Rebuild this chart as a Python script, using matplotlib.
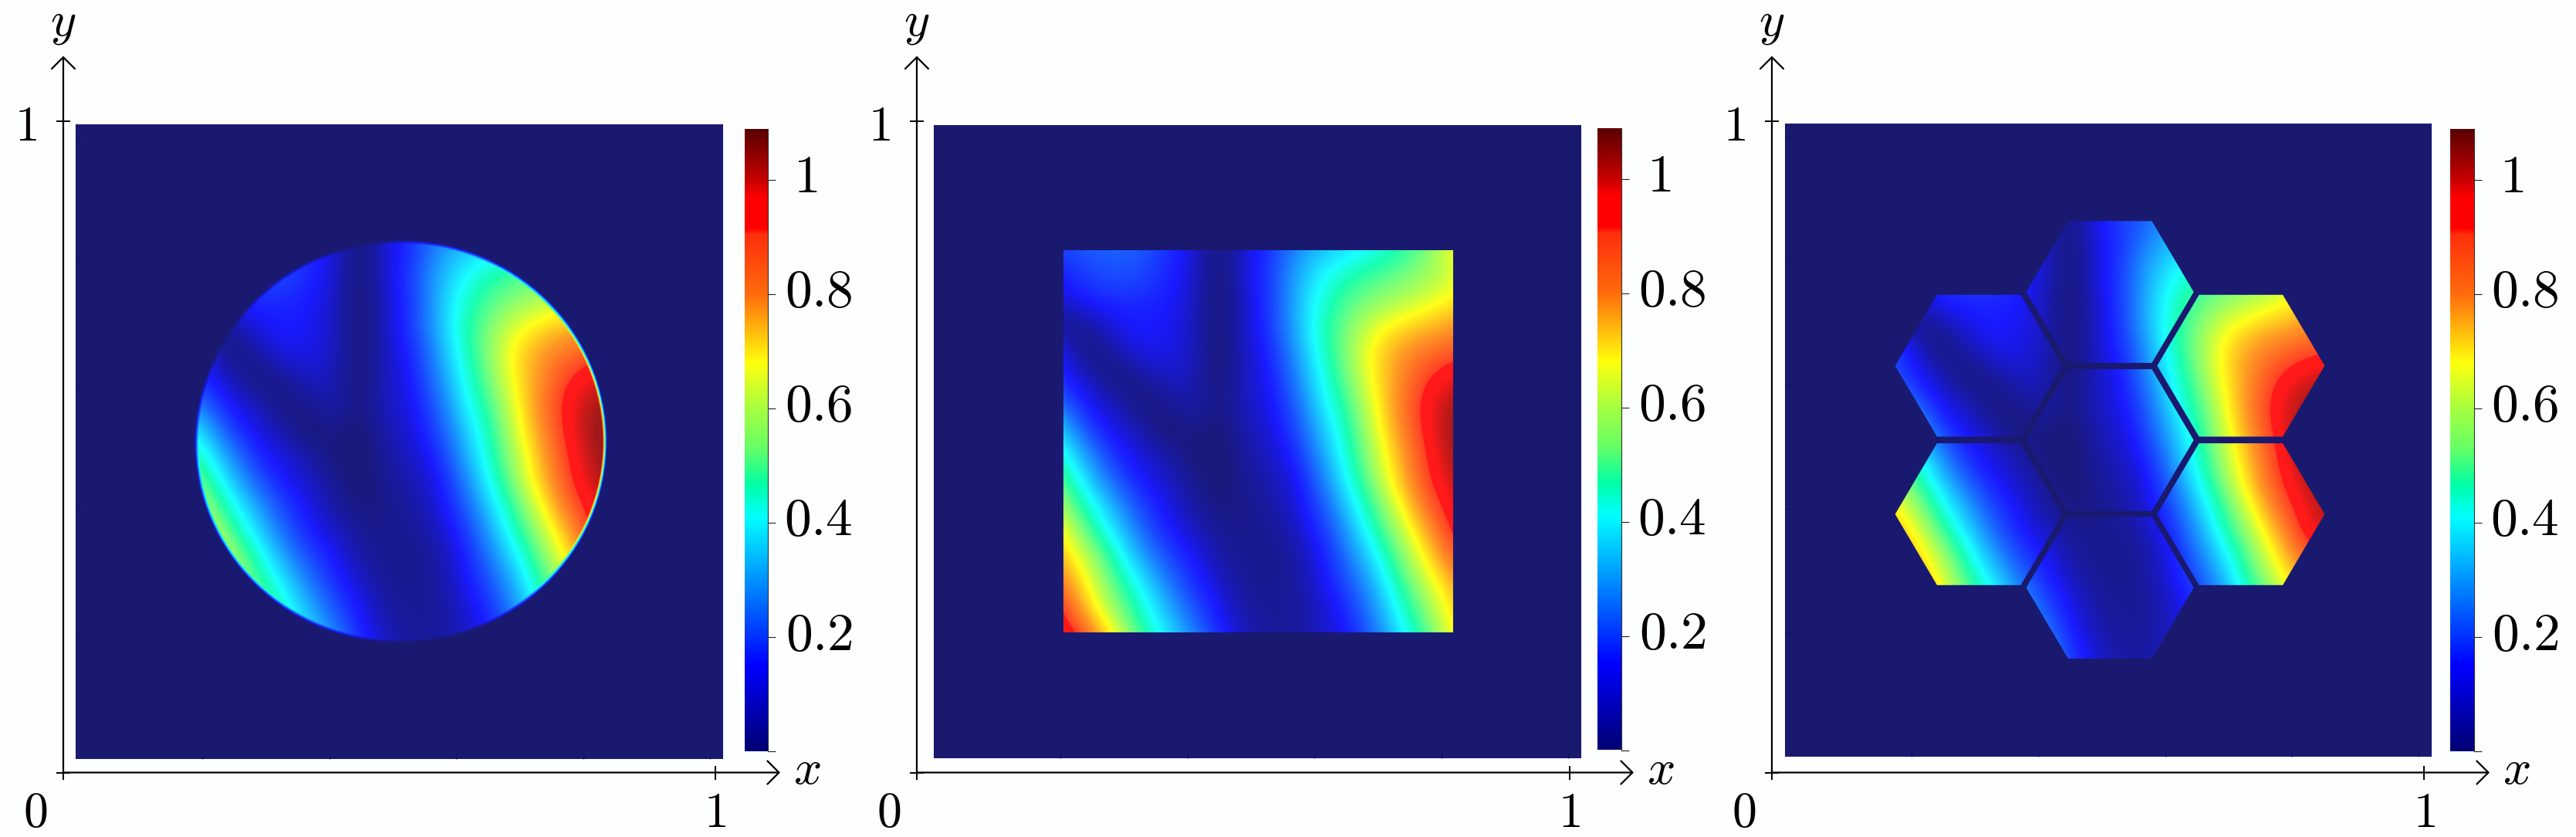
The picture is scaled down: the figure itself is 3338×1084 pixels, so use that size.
import numpy as np
import matplotlib
matplotlib.use('Agg')
import matplotlib.pyplot as plt
from matplotlib.colors import LinearSegmentedColormap
from matplotlib.patches import Circle, Rectangle, PathPatch
from matplotlib.path import Path

plt.rcParams['mathtext.fontset'] = 'cm'

W, H = 3338, 1084
bg = '#fdfefe'
frame_col = '#191970'

vmax = 1.089
cbar_ticks = [0.2, 0.4, 0.6, 0.8, 1.0]
cbar_labels = ['0.2', '0.4', '0.6', '0.8', '1']
frame_ticks = [0.196, 0.392, 0.588, 0.784, 0.98]

x_grid = [.16, .20, .24, .28, .32, .36, .40, .44, .48, .52, .56, .60, .64, .68, .72, .76, .80, .84]
y_grid = [.84, .80, .76, .72, .68, .64, .60, .56, .52, .48, .44, .40, .36, .32, .28, .24, .20, .16]
field = [
    [.17, .19, .21, .22, .21, .16, .10, .03, .10, .16, .20, .29, .35, .39, .45, .53, .63, .72],
    [.14, .16, .19, .20, .19, .14, .09, .02, .09, .14, .26, .32, .36, .41, .46, .54, .67, .75],
    [.10, .12, .16, .18, .17, .13, .09, .02, .09, .16, .29, .39, .46, .50, .54, .58, .63, .72],
    [.10, .08, .12, .13, .13, .12, .08, .02, .08, .15, .30, .43, .51, .56, .60, .65, .70, .76],
    [.12, .03, .05, .10, .12, .11, .08, .02, .08, .15, .30, .45, .55, .66, .72, .76, .80, .83],
    [.17, .11, .02, .06, .10, .105, .08, .02, .08, .125, .27, .43, .57, .71, .80, .86, .90, .93],
    [.21, .115, .08, .02, .05, .08, .075, .02, .08, .11, .24, .40, .54, .70, .82, .93, .99, 1.02],
    [.28, .20, .10, .08, .02, .05, .07, .03, .08, .10, .20, .37, .50, .67, .84, .97, 1.04, 1.07],
    [.42, .32, .15, .095, .07, .01, .05, .02, .07, .09, .17, .32, .46, .64, .82, .96, 1.06, 1.10],
    [.53, .41, .25, .13, .09, .07, .02, .01, .06, .08, .13, .28, .44, .60, .78, .94, 1.04, 1.10],
    [.62, .50, .33, .19, .11, .08, .05, .015, .05, .07, .10, .23, .40, .57, .75, .92, 1.02, 1.08],
    [.70, .58, .42, .28, .16, .10, .06, .03, .04, .06, .09, .18, .34, .50, .68, .87, .98, 1.05],
    [.80, .67, .50, .35, .21, .12, .08, .05, .04, .05, .075, .14, .28, .45, .60, .78, .96, 1.02],
    [.88, .74, .60, .44, .28, .17, .11, .06, .045, .04, .06, .11, .23, .37, .54, .70, .88, .96],
    [.95, .83, .66, .50, .37, .23, .135, .08, .05, .04, .06, .10, .18, .31, .48, .63, .77, .90],
    [1.02, .93, .72, .56, .43, .30, .18, .105, .06, .05, .05, .085, .14, .26, .42, .56, .72, .83],
    [1.08, 1.00, .85, .65, .48, .35, .24, .12, .07, .05, .055, .08, .115, .22, .37, .51, .68, .78],
    [1.10, 1.08, .95, .75, .56, .42, .30, .16, .09, .06, .06, .08, .10, .17, .31, .46, .62, .72],
]

# colour stops, (value, rgb)
cbar_stops = [(0, (0, 0, .45)), (.15, (0, 0, 1)), (.41, (0, 1, 1)), (.467, (0, 1, .65)), (.53, (.4, 1, .4)),
              (.6, (.65, 1, .25)), (.68, (1, 1, .05)), (.8, (1, .42, .05)), (.905, (1, .18, .05)), (.915, (1, 0, 0)),
              (.97, (1, 0, 0)), (1.0, (.78, 0, 0)), (vmax, (.35, 0, 0))]
# the images look washed with white, with a darker low end
img_stops = [(0, (0, 0, .38)), (.03, (0, 0, .44)), (.06, (0, 0, .6)), (.115, (0, 0, 1)), (.39, (0, 1, 1)),
             (.46, (0, 1, .65)), (.55, (.45, 1, .4)), (.6, (.65, 1, .25)), (.68, (1, 1, 0)), (.8, (1, .55, .05)),
             (.925, (1, .18, .05)), (.932, (1, 0, 0)), (.97, (1, 0, 0)), (1.05, (.6, 0, 0)), (vmax, (.5, 0, 0))]


def make_cmap(stops, wash=0.0):
    return LinearSegmentedColormap.from_list(
        'c', [(v / vmax, tuple(c * (1 - wash) + wash for c in rgb)) for v, rgb in stops], N=1024)


cbar_cmap = make_cmap(cbar_stops)
img_cmap = make_cmap(img_stops, 0.1)

# circle edge fades to zero over a few pixels
edge_scale = [.12, .25, .4, .55, .7, .85, 1.0]
edge_step = 0.0010
circle_r = 0.3185

# hexagon layout, in fractions of the frame
hex_centres = [(0.5025, 0.5), (0.5025, 0.734), (0.5025, 0.267),
               (0.2998, 0.6175), (0.2998, 0.383), (0.705, 0.6175), (0.705, 0.383)]
hex_w = 0.1295
hex_h = 0.112

# pixel layouts: axis x, x=1 tick, arrow tip, frame l/r/t/b, colorbar l/r/t/b
panels = [
    dict(ax0=82, ax1=926.5, tip=1011, fr=(98, 937, 161, 983), cb=(965, 995, 167, 973)),
    dict(ax0=1188, ax1=2033.6, tip=2117, fr=(1210, 2049, 162, 982), cb=(2070, 2101, 166, 971.5)),
    dict(ax0=2296, ax1=3141, tip=3226, fr=(2313, 3151, 160, 980), cb=(3175, 3206, 167, 973)),
]
y_axis = 1000.5
y_one = 157
y_tip = 72.5


def px_axes(fig, l, r, t, b):
    return fig.add_axes([l / W, 1 - b / H, (r - l) / W, (b - t) / H])


def hex_path():
    parts = []
    for cx, cy in hex_centres:
        verts = [(cx - hex_w, cy), (cx - hex_w / 2, cy + hex_h), (cx + hex_w / 2, cy + hex_h),
                 (cx + hex_w, cy), (cx + hex_w / 2, cy - hex_h), (cx - hex_w / 2, cy - hex_h),
                 (cx - hex_w, cy)]
        parts.append(Path(verts, closed=True))
    return Path.make_compound_path(*parts)


def show_field(fa, scale, clip):
    dx = x_grid[1] - x_grid[0]
    im = fa.imshow(np.array(field[::-1]) * scale, cmap=img_cmap, vmin=0, vmax=vmax,
                   extent=(x_grid[0] - dx / 2, x_grid[-1] + dx / 2, y_grid[-1] - dx / 2, y_grid[0] + dx / 2),
                   origin='lower', aspect='auto', interpolation='bicubic', interpolation_stage='data')
    im.set_clip_path(clip)


fig = plt.figure(figsize=(W / 100, H / 100), dpi=100, facecolor=bg)

for i, p in enumerate(panels):
    # frame with the field
    l, r, tp, b = p['fr']
    fa = px_axes(fig, l, r, tp, b)
    fa.set_facecolor(frame_col)
    for s in fa.spines.values():
        s.set_visible(False)
    if i == 0:
        for k, sc in enumerate(edge_scale):
            show_field(fa, sc, Circle((0.502, 0.5), circle_r - k * edge_step, transform=fa.transData))
    elif i == 1:
        show_field(fa, 1.0, Rectangle((0.2, 0.199), 0.601, 0.603, transform=fa.transData))
    else:
        show_field(fa, 1.0, PathPatch(hex_path(), transform=fa.transData))
    fa.set_xlim(0, 1)
    fa.set_ylim(0, 1)
    fa.set_xticks(frame_ticks)
    fa.set_yticks(frame_ticks)
    fa.tick_params(direction='in', length=5, width=0.8, color='#10106a', labelleft=False, labelbottom=False)

    # colorbar
    l, r, tp, b = p['cb']
    ca = px_axes(fig, l, r, tp, b)
    grad = np.linspace(0, vmax, 1024).reshape(-1, 1)
    ca.imshow(grad, cmap=cbar_cmap, vmin=0, vmax=vmax, origin='lower', aspect='auto', extent=(0, 1, 0, vmax))
    for s in ['top', 'left', 'bottom']:
        ca.spines[s].set_visible(False)
    ca.spines['right'].set_linewidth(0.8)
    ca.spines['right'].set_color('#333333')
    ca.set_xticks([])
    ca.yaxis.tick_right()
    ca.set_yticks([0] + cbar_ticks)
    ca.set_yticklabels([])
    ca.tick_params(axis='y', length=7.5, width=0.8, color='#222222')
    for v, lab in zip(cbar_ticks, cbar_labels):
        xp = r + 110 if lab != '1' else r + 64
        ca.text((xp - l) / (r - l), v + 0.004, '$%s$' % lab, fontsize=50, ha='right', va='center',
                transform=ca.get_yaxis_transform())

    # x/y axis lines with arrows
    a0, a1, tip = p['ax0'], p['ax1'], p['tip']
    ax = px_axes(fig, a0, tip, y_tip, y_axis)
    ax.patch.set_alpha(0)
    xm = (tip - a0) / (a1 - a0)
    ym = (y_axis - y_tip) / (y_axis - y_one)
    ax.set_xlim(0, xm)
    ax.set_ylim(0, ym)
    for s in ax.spines.values():
        s.set_visible(False)
    arrow = dict(arrowstyle='->,head_length=0.45,head_width=0.45', lw=1.6, color='black',
                 shrinkA=0, shrinkB=0, mutation_scale=24)
    ax.annotate('', xy=(xm, 0), xytext=(0, 0), arrowprops=arrow, annotation_clip=False)
    ax.annotate('', xy=(0, ym), xytext=(0, 0), arrowprops=arrow, annotation_clip=False)
    ax.set_xticks([0, 1])
    ax.set_xticklabels(['', '$1$'], fontsize=46)
    ax.set_yticks([0, 1])
    ax.set_yticklabels(['', '$1$'], fontsize=46)
    ax.tick_params(axis='y', direction='inout', length=12.5, width=1.4, pad=18)
    ax.tick_params(axis='x', direction='inout', length=12.5, width=1.4, pad=9)
    ax.text(-36 / (a1 - a0), -53 / (y_axis - y_one), '$0$', fontsize=46, ha='center', va='center', clip_on=False)
    ax.text(xm + 35 / (a1 - a0), 4 / (y_axis - y_one), '$x$', fontsize=46, ha='center', va='center', clip_on=False)
    ax.text(0, ym + 44 / (y_axis - y_one), '$y$', fontsize=46, ha='center', va='center', clip_on=False)

fig.savefig('out.png', dpi=100, facecolor=bg)
